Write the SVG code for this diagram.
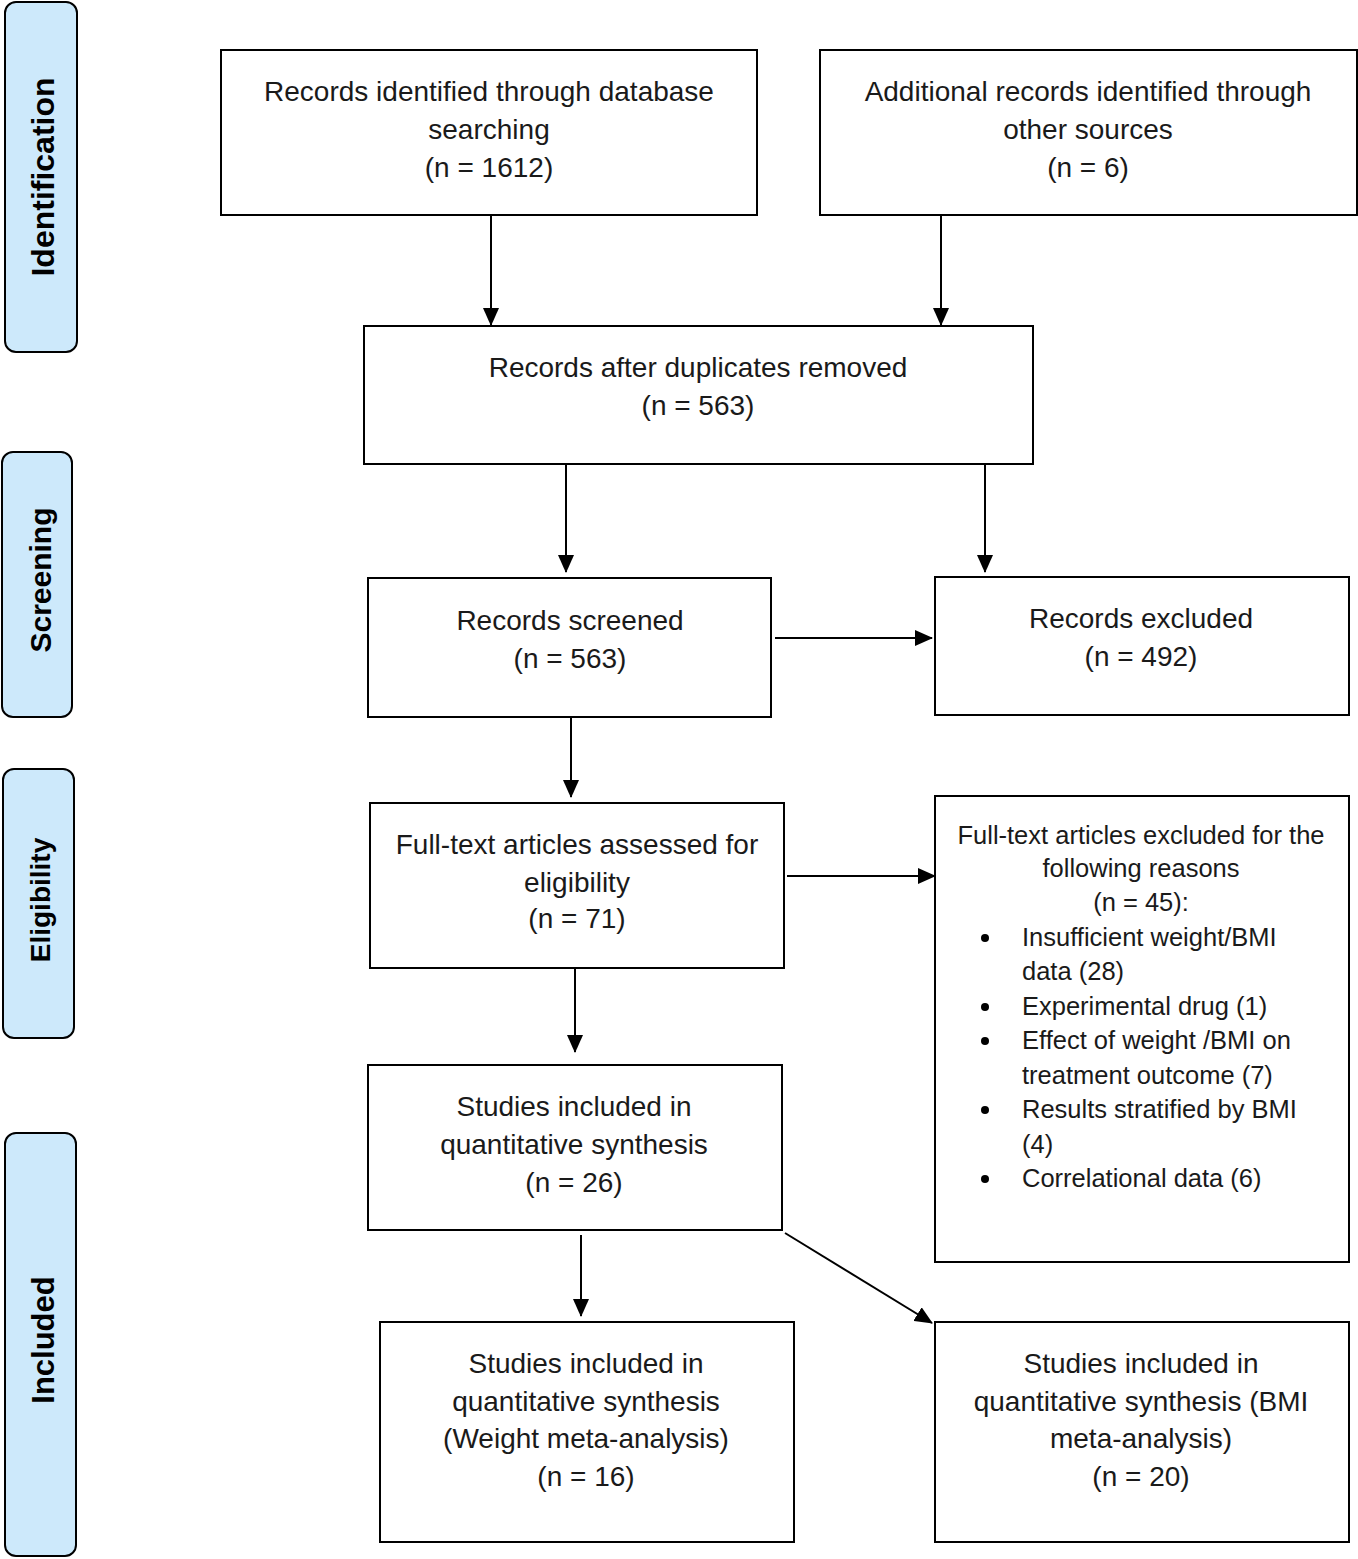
<svg xmlns="http://www.w3.org/2000/svg" width="1358" height="1559" viewBox="0 0 1358 1559">
<style>
.box{fill:#fff;stroke:#000;stroke-width:2}
.phase{fill:#cde9fb;stroke:#000;stroke-width:2}
.t{font-family:"Liberation Sans",Arial,sans-serif;font-size:28px;fill:#1a1a1a;text-anchor:middle}
.s{font-family:"Liberation Sans",Arial,sans-serif;font-size:25.5px;fill:#1a1a1a}
.p{font-family:"Liberation Sans",Arial,sans-serif;font-weight:bold;fill:#000;text-anchor:middle}
.c{stroke:#000;stroke-width:2;fill:none;marker-end:url(#ah)}
</style>
<defs>
<marker id="ah" markerUnits="userSpaceOnUse" markerWidth="18" markerHeight="16" refX="17" refY="8" orient="auto">
<path d="M0,0 L18,8 L0,16 Z" fill="#000"/>
</marker>
</defs>
<rect width="1358" height="1559" fill="#fff"/>
<g id="phase-identification"><rect class="phase" x="5" y="2" width="72" height="350" rx="11"/><text class="p" font-size="32" transform="translate(54,177) rotate(-90)">Identification</text></g>
<g id="phase-screening"><rect class="phase" x="2" y="452" width="70" height="265" rx="11"/><text class="p" font-size="30" transform="translate(51,580) rotate(-90)">Screening</text></g>
<g id="phase-eligibility"><rect class="phase" x="3" y="769" width="71" height="269" rx="11"/><text class="p" font-size="28" transform="translate(50,900) rotate(-90)">Eligibility</text></g>
<g id="phase-included"><rect class="phase" x="5" y="1133" width="71" height="423" rx="11"/><text class="p" font-size="31" transform="translate(54,1340) rotate(-90)">Included</text></g>

<g id="n-db"><rect class="box" x="221" y="50" width="536" height="165"/>
<text class="t" x="489" y="101">Records identified through database</text>
<text class="t" x="489" y="139">searching</text>
<text class="t" x="489" y="177">(n = 1612)</text></g>
<g id="n-other"><rect class="box" x="820" y="50" width="537" height="165"/>
<text class="t" x="1088" y="101">Additional records identified through</text>
<text class="t" x="1088" y="139">other sources</text>
<text class="t" x="1088" y="177">(n = 6)</text></g>
<g id="n-dup"><rect class="box" x="364" y="326" width="669" height="138"/>
<text class="t" x="698" y="377">Records after duplicates removed</text>
<text class="t" x="698" y="415">(n = 563)</text></g>
<g id="n-screened"><rect class="box" x="368" y="578" width="403" height="139"/>
<text class="t" x="570" y="630">Records screened</text>
<text class="t" x="570" y="668">(n = 563)</text></g>
<g id="n-excluded"><rect class="box" x="935" y="577" width="414" height="138"/>
<text class="t" x="1141" y="628">Records excluded</text>
<text class="t" x="1141" y="666">(n = 492)</text></g>
<g id="n-fulltext"><rect class="box" x="370" y="803" width="414" height="165"/>
<text class="t" x="577" y="854">Full-text articles assessed for</text>
<text class="t" x="577" y="892">eligibility</text>
<text class="t" x="577" y="928">(n = 71)</text></g>
<g id="n-ftexcluded"><rect class="box" x="935" y="796" width="414" height="466"/>
<text class="s" text-anchor="middle" x="1141" y="844">Full-text articles excluded for the</text>
<text class="s" text-anchor="middle" x="1141" y="877">following reasons</text>
<text class="s" text-anchor="middle" x="1141" y="911">(n = 45):</text>
<g fill="#000"><circle cx="985" cy="938" r="4"/><circle cx="985" cy="1007" r="4"/><circle cx="985" cy="1041" r="4"/><circle cx="985" cy="1110" r="4"/><circle cx="985" cy="1179" r="4"/></g>
<text class="s" x="1022" y="946">Insufficient weight/BMI</text>
<text class="s" x="1022" y="980">data (28)</text>
<text class="s" x="1022" y="1015">Experimental drug (1)</text>
<text class="s" x="1022" y="1049">Effect of weight /BMI on</text>
<text class="s" x="1022" y="1084">treatment outcome (7)</text>
<text class="s" x="1022" y="1118">Results stratified by BMI</text>
<text class="s" x="1022" y="1153">(4)</text>
<text class="s" x="1022" y="1187">Correlational data (6)</text></g>
<g id="n-included"><rect class="box" x="368" y="1065" width="414" height="165"/>
<text class="t" x="574" y="1116">Studies included in</text>
<text class="t" x="574" y="1154">quantitative synthesis</text>
<text class="t" x="574" y="1192">(n = 26)</text></g>
<g id="n-weight"><rect class="box" x="380" y="1322" width="414" height="220"/>
<text class="t" x="586" y="1373">Studies included in</text>
<text class="t" x="586" y="1411">quantitative synthesis</text>
<text class="t" x="586" y="1448">(Weight meta-analysis)</text>
<text class="t" x="586" y="1486">(n = 16)</text></g>
<g id="n-bmi"><rect class="box" x="935" y="1322" width="414" height="220"/>
<text class="t" x="1141" y="1373">Studies included in</text>
<text class="t" x="1141" y="1411">quantitative synthesis (BMI</text>
<text class="t" x="1141" y="1448">meta-analysis)</text>
<text class="t" x="1141" y="1486">(n = 20)</text></g>

<g id="connectors">
<line class="c" x1="491" y1="215" x2="491" y2="325"/>
<line class="c" x1="941" y1="215" x2="941" y2="325"/>
<line class="c" x1="566" y1="464" x2="566" y2="572"/>
<line class="c" x1="985" y1="464" x2="985" y2="572"/>
<line class="c" x1="775" y1="638" x2="932" y2="638"/>
<line class="c" x1="571" y1="717" x2="571" y2="797"/>
<line class="c" x1="787" y1="876" x2="935" y2="876"/>
<line class="c" x1="575" y1="968" x2="575" y2="1052"/>
<line class="c" x1="581" y1="1235" x2="581" y2="1316"/>
<line class="c" x1="785" y1="1233" x2="932" y2="1323"/>
</g>
</svg>
